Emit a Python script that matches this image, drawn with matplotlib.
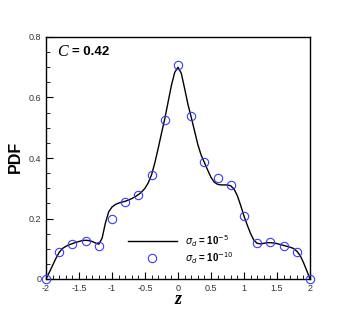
import numpy as np
import matplotlib
matplotlib.use("Agg")
import matplotlib.pyplot as plt
from matplotlib.ticker import MultipleLocator

# solid curve, sigma_d = 1e-5
z_line = np.round(np.arange(-2.0, 2.0001, 0.05), 2)
pdf_line = [
    0.000, 0.022, 0.045, 0.068, 0.088, 0.101, 0.108, 0.113, 0.117, 0.121,
    0.124, 0.127, 0.128, 0.127, 0.124, 0.119, 0.115, 0.135, 0.185, 0.222,
    0.238, 0.246, 0.251, 0.254, 0.257, 0.261, 0.266, 0.272, 0.279, 0.288,
    0.300, 0.318, 0.345, 0.385, 0.432, 0.482, 0.530, 0.585, 0.640, 0.683,
    0.700,
    0.680, 0.630, 0.578, 0.535, 0.490, 0.445, 0.410, 0.385, 0.360, 0.336,
    0.320, 0.313, 0.311, 0.311, 0.311, 0.308, 0.297, 0.275, 0.243, 0.208,
    0.178, 0.150, 0.128, 0.118, 0.116, 0.118, 0.120, 0.120, 0.119, 0.117,
    0.114, 0.111, 0.108, 0.105, 0.101, 0.092, 0.078, 0.055, 0.028, 0.000,
]

# circles, sigma_d = 1e-10
z_pts = np.round(np.arange(-2.0, 2.0001, 0.2), 2)
pdf_pts = [
    0.000, 0.088, 0.115, 0.126, 0.109, 0.198, 0.255, 0.278, 0.345, 0.526,
    0.706, 0.540, 0.387, 0.335, 0.311, 0.208, 0.118, 0.122, 0.110, 0.090,
    0.000,
]

W, H = 353, 314
fig = plt.figure(figsize=(W / 100, H / 100), dpi=100)
ax = fig.add_axes([46 / W, 1 - 279 / H, (310 - 46) / W, (279 - 37) / H])

ax.plot(z_line, pdf_line, color="black", lw=1.0,
        label=r"$\sigma_d$ = 10$^{-5}$")
ax.plot(z_pts, pdf_pts, ls="none", marker="o", ms=6, mfc="none",
        mec="#3a3aff", mew=0.8, clip_on=False, zorder=5,
        label=r"$\sigma_d$ = 10$^{-10}$")

ax.set_xlim(-2, 2)
ax.set_ylim(0, 0.8)
ax.xaxis.set_minor_locator(MultipleLocator(0.1))
ax.yaxis.set_minor_locator(MultipleLocator(0.05))
ax.set_xticks(np.arange(-2, 2.01, 0.5))
ax.set_xticklabels(["-2", "-1.5", "-1", "-0.5", "0", "0.5", "1", "1.5", "2"])
ax.set_yticks(np.arange(0, 0.81, 0.2))
ax.set_yticklabels(["0", "0.2", "0.4", "0.6", "0.8"])
ax.tick_params(which="both", direction="in", top=False, right=False,
               labelsize=6.5, labelcolor="#333333", pad=3.5,
               labelfontfamily="Liberation Sans")
ax.tick_params(which="major", length=5, width=0.8)
ax.tick_params(which="minor", length=3, width=0.6)
for s in ax.spines.values():
    s.set_linewidth(1.0)

fig.text(15 / W, 1 - 157 / H, "PDF", rotation=90, ha="center", va="center",
         fontsize=11.5, fontweight="bold", family="Liberation Sans")
fig.text(178 / W, 1 - 300 / H, "z", ha="center", va="center",
         fontsize=13, style="italic", fontweight="bold",
         family="Liberation Serif")

fig.text(57 / W, 1 - 52 / H, "C", ha="left", va="center", fontsize=11.5,
         style="italic", family="Liberation Serif")
fig.text(72 / W, 1 - 52 / H, "= 0.42", ha="left", va="center", fontsize=9.5,
         fontweight="bold", family="Liberation Sans")

leg = ax.legend(loc="upper left", bbox_to_anchor=(128 / W, 1 - 233 / H),
                bbox_transform=fig.transFigure, frameon=False, borderpad=0,
                borderaxespad=0, handlelength=5.0, handletextpad=0.9,
                labelspacing=0.15, numpoints=1,
                prop={"family": "Liberation Sans", "weight": "bold",
                      "size": 7})

fig.savefig("out.png", dpi=100)
